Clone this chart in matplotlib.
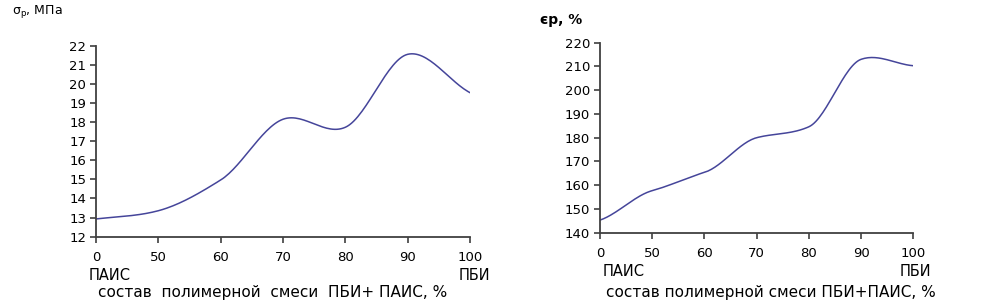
import numpy as np
import matplotlib
matplotlib.use('Agg')
import matplotlib.pyplot as plt

# === DATA ===
categories = ['0', '50', '60', '70', '80', '90', '100']
strength = [12.93, 13.36, 14.97, 18.15, 17.73, 21.55, 19.54]      # sigma_p, MPa
elongation = [145.3, 157.7, 165.4, 180.0, 184.6, 213.0, 210.3]    # eps_p, %

LINE_COLOR = '#45459a'
AXIS_COLOR = '#404040'
plt.rcParams['font.family'] = ['DejaVu Sans']


def smooth(y, tension=0.85, n=30):
    # cardinal spline through the points (spreadsheet-like "smoothed line")
    y = np.asarray(y, dtype=float)
    m = len(y)
    tang = np.zeros(m)
    tang[1:-1] = tension * (y[2:] - y[:-2]) / 2
    tang[0] = tension * (y[1] - y[0])
    tang[-1] = tension * (y[-1] - y[-2])
    xs, ys = [], []
    t = np.linspace(0, 1, n, endpoint=False)
    h00 = 2 * t ** 3 - 3 * t ** 2 + 1
    h10 = t ** 3 - 2 * t ** 2 + t
    h01 = -2 * t ** 3 + 3 * t ** 2
    h11 = t ** 3 - t ** 2
    for i in range(m - 1):
        xs.append(i + t)
        ys.append(h00 * y[i] + h10 * tang[i] + h01 * y[i + 1] + h11 * tang[i + 1])
    xs.append([m - 1])
    ys.append([y[-1]])
    return np.concatenate(xs), np.concatenate(ys)


def style(ax, ylim, step):
    ax.set_xlim(0, len(categories) - 1)
    ax.set_ylim(*ylim)
    ax.set_yticks(np.arange(ylim[0], ylim[1] + step / 2, step))
    ax.set_xticks(range(len(categories)))
    ax.set_xticklabels(categories)
    for s in ['top', 'right']:
        ax.spines[s].set_visible(False)
    for s in ['left', 'bottom']:
        ax.spines[s].set_color(AXIS_COLOR)
        ax.spines[s].set_linewidth(1.3)
    ax.tick_params(direction='out', length=4, width=1.2, color=AXIS_COLOR,
                   labelsize=9.5, pad=3)
    ax.tick_params(axis='x', pad=6)


fig = plt.figure(figsize=(9.95, 3.08), dpi=100)

ax1 = fig.add_axes([0.0965, 0.2315, 0.3759, 0.6201])
xs, ys = smooth(strength)
ax1.plot(xs, ys, color=LINE_COLOR, lw=1.1)
style(ax1, (12, 22), 1)

ax2 = fig.add_axes([0.603, 0.2445, 0.3149, 0.6169])
xs, ys = smooth(elongation, tension=0.6)
ax2.plot(xs, ys, color=LINE_COLOR, lw=1.1)
style(ax2, (140, 220), 10)

# axis captions
fig.text(12 / 995, 1 - 12 / 308, r'$\mathregular{\sigma_{р}}$, МПа', fontsize=9,
         ha='left', va='center')
fig.text(540 / 995, 1 - 20 / 308, 'єр, %', fontsize=10, fontweight='bold',
         ha='left', va='center')

fig.text(89 / 995, 1 - 275 / 308, 'ПАИС', fontsize=10.5, ha='left', va='center')
fig.text(490 / 995, 1 - 275 / 308, 'ПБИ', fontsize=10.5, ha='right', va='center')
fig.text(273 / 995, 1 - 292 / 308, 'состав  полимерной  смеси  ПБИ+ ПАИС, %',
         fontsize=11, ha='center', va='center')

fig.text(603 / 995, 1 - 272 / 308, 'ПАИС', fontsize=10.5, ha='left', va='center')
fig.text(931 / 995, 1 - 272 / 308, 'ПБИ', fontsize=10.5, ha='right', va='center')
fig.text(771 / 995, 1 - 293 / 308, 'состав полимерной смеси ПБИ+ПАИС, %',
         fontsize=11, ha='center', va='center')

fig.savefig('out.png', dpi=100)
